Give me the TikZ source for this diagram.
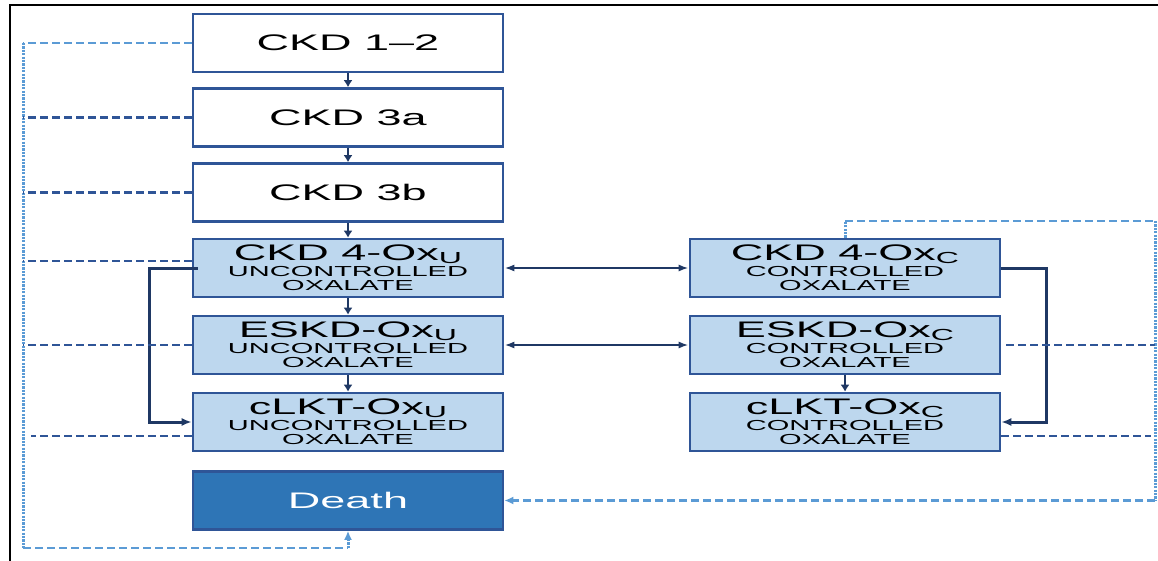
\documentclass[tikz,border=0pt]{standalone}
\usepackage{fontspec}
\setmainfont{Liberation Sans}[FakeStretch=2.0]
\usetikzlibrary{arrows.meta}
\definecolor{boxedge}{HTML}{2F5597}
\definecolor{boxfill}{HTML}{BDD7EE}
\definecolor{deathfill}{HTML}{2E75B6}
\definecolor{navy}{HTML}{1F3864}
\definecolor{darkdash}{HTML}{2F5597}
\definecolor{lightdash}{HTML}{5B9BD5}
\newcommand\lowsub[1]{\raisebox{-3pt}{\fontsize{16}{16}\selectfont #1}}
\newcommand\headline[1]{{\fontsize{22.5}{22.5}\selectfont #1}}
\begin{document}
\begin{tikzpicture}[x=1pt,y=-1pt,
  stage/.style={draw=boxedge, line width=2.6pt, minimum width=310pt, minimum height=58pt, inner sep=0pt, align=center},
  plain/.style={stage, fill=white, font=\fontsize{22.5}{22.5}\selectfont},
  ox/.style={stage, fill=boxfill, font=\fontsize{14.5}{14}\selectfont},
  dead/.style={stage, fill=deathfill, text=white, font=\fontsize{22.5}{22.5}\selectfont},
  flow/.style={draw=navy, line width=2.8pt, -{Latex[length=7pt,width=9pt]}},
  swap/.style={draw=navy, line width=2pt, {Latex[length=10pt,width=7pt]}-{Latex[length=10pt,width=7pt]}},
  skip/.style={draw=navy, line width=3pt, -{Latex[length=10pt,width=8pt]}},
  ddash/.style={draw=darkdash, line width=2.2pt, dash pattern=on 8pt off 4pt},
  ldash/.style={draw=lightdash, line width=2.2pt, dash pattern=on 8pt off 4pt},
  ldot/.style={draw=lightdash, line width=3pt, dash pattern=on 2.2pt off 1.2pt},
  tip/.style={-{Latex[length=9pt,width=8pt]}},
]
\useasboundingbox (0,0) rectangle (1158,561);
\draw[line width=2.4pt] (10,561) -- (10,5) -- (1158,5);

\node[plain] (ckd12) at (348,43) {CKD 1–2};
\node[plain] (ckd3a) at (348,117.5) {CKD 3a};
\node[plain] (ckd3b) at (348,192.5) {CKD 3b};
\node[ox] (ckd4u) at (348,268) {\headline{CKD 4-Ox\lowsub{U}}\\[2pt] UNCONTROLLED\\ OXALATE};
\node[ox] (eskdu) at (348,345) {\headline{ESKD-Ox\lowsub{U}}\\[2pt] UNCONTROLLED\\ OXALATE};
\node[ox] (clktu) at (348,422) {\headline{cLKT-Ox\lowsub{U}}\\[2pt] UNCONTROLLED\\ OXALATE};
\node[dead] (death) at (348,500.5) {Death};
\node[ox] (ckd4c) at (845,268) {\headline{CKD 4-Ox\lowsub{C}}\\[2pt] CONTROLLED\\ OXALATE};
\node[ox] (eskdc) at (845,345) {\headline{ESKD-Ox\lowsub{C}}\\[2pt] CONTROLLED\\ OXALATE};
\node[ox] (clktc) at (845,422) {\headline{cLKT-Ox\lowsub{C}}\\[2pt] CONTROLLED\\ OXALATE};

% solid progression arrows
\draw[flow] (ckd12) -- (ckd3a);
\draw[flow] (ckd3a) -- (ckd3b);
\draw[flow] (ckd3b) -- (ckd4u);
\draw[flow] (ckd4u) -- (eskdu);
\draw[flow] (eskdu) -- (clktu);
\draw[flow] (eskdc) -- (clktc);
\draw[swap] (ckd4u) -- (ckd4c);
\draw[swap] (eskdu) -- (eskdc);
\draw[skip] ([xshift=6pt]ckd4u.west) -- ++(-48,0) |- (clktu.west);
\draw[skip] (ckd4c.east) -- ++(45,0) |- (clktc.east);

% coordinates of dashed routes
\coordinate (lt) at (23,43);
\coordinate (lb) at (23,548);
\coordinate (db) at (348,548);
\coordinate (ct) at (845,221);
\coordinate (rt) at (1155,221);
\coordinate (rb) at (1155,500.5);

% death routes (light blue)
\draw[ldash] (ckd12.west) -- (lt);
\draw[ldot] (lt) -- (lb);
\draw[ldash] (lb) -- (db);
\draw[ldot, tip] (db) -- (death.south);
\draw[ldot] (ckd4c.north) -- (ct);
\draw[ldash] (ct) -- (rt);
\draw[ldot] (rt) -- (rb);
\draw[ldash, tip] (rb) -- (death.east);

% dark dashed feeders
\draw[ddash] (ckd3a.west) -- (ckd3a.west -| lt);
\draw[ddash] (ckd3b.west) -- (ckd3b.west -| lt);
\draw[ddash] ([yshift=7pt]ckd4u.west) -- ([yshift=7pt]ckd4u.west -| lt);
\draw[ddash] (eskdu.west) -- (eskdu.west -| lt);
\draw[ddash] ([yshift=-14pt]clktu.west) -- ++(-161,0);
\draw[ddash] ([xshift=5pt]eskdc.east) -- (eskdc.east -| rt);
\draw[ddash] ([yshift=-14pt]clktc.east) -- ++(150,0);
\end{tikzpicture}
\end{document}
